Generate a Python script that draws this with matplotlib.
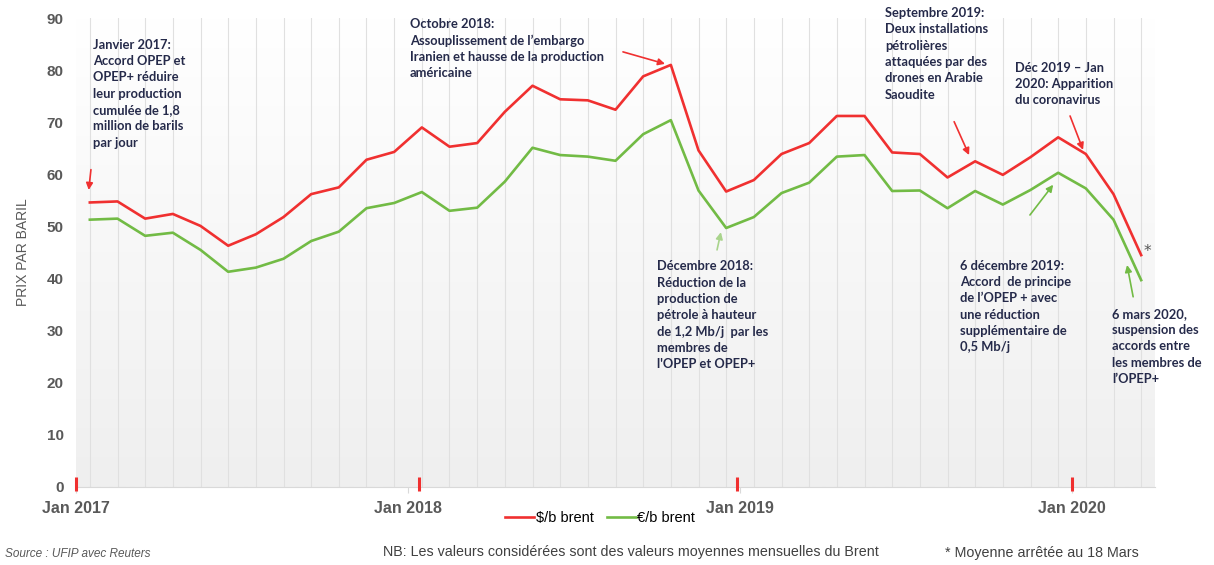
import matplotlib
matplotlib.use("Agg")
import matplotlib.pyplot as plt
from matplotlib.colors import LinearSegmentedColormap
import numpy as np

# Monthly averages, Jan 2017 -> Mar 2020 (last = average up to 18 March)
months = list(range(39))
brent_usd = [54.6, 54.8, 51.5, 52.4, 50.1, 46.3, 48.5, 51.8, 56.2, 57.5,
             62.8, 64.3, 69.0, 65.3, 66.0, 72.0, 77.0, 74.4, 74.2, 72.4,
             78.8, 81.0, 64.6, 56.7, 58.9, 63.9, 66.0, 71.2, 71.2, 64.2,
             63.9, 59.4, 62.5, 59.9, 63.3, 67.1, 63.9, 56.2, 44.5]
brent_eur = [51.3, 51.5, 48.2, 48.8, 45.5, 41.3, 42.1, 43.8, 47.2, 49.0,
             53.5, 54.5, 56.6, 53.0, 53.6, 58.6, 65.1, 63.7, 63.4, 62.6,
             67.7, 70.4, 56.9, 49.7, 51.8, 56.4, 58.4, 63.4, 63.7, 56.8,
             56.9, 53.5, 56.8, 54.2, 57.0, 60.3, 57.3, 51.3, 39.7]
year_ticks = [-0.5, 11.5, 23.5, 35.5]
year_labels = ['Jan 2017', 'Jan 2018', 'Jan 2019', 'Jan 2020']
red_marks = [-0.5, 11.9, 23.4, 35.5]

RED = '#f03030'
GREEN = '#72bb45'
LIGHT_GREEN = '#a9d48c'
NAVY = '#252a4a'
GRAY = '#595959'

# annotations: text, text pos (x, y top), arrow tail, arrow head, arrow colour
notes = [
    ("Janvier 2017:\nAccord OPEP et\nOPEP+ réduire\nleur production\ncumulée de 1,8\nmillion de barils\npar jour",
     (0.11, 86.0), (0.04, 60.9), (-0.04, 57.0), RED),
    ("Octobre 2018:\nAssouplissement de l\u2019embargo\nIranien et hausse de la production\naméricaine",
     (11.57, 90.0), (19.27, 83.5), (20.79, 81.2), RED),
    ("Septembre 2019:\nDeux installations\npétrolières\nattaquées par des\ndrones en Arabie\nSaoudite",
     (28.74, 92.1), (31.24, 70.1), (31.78, 63.7), RED),
    ("Déc 2019 \u2013 Jan\n2020: Apparition\ndu coronavirus",
     (33.44, 81.6), (35.43, 71.2), (35.90, 64.7), RED),
    ("Décembre 2018:\nRéduction de la\nproduction de\npétrole à hauteur\nde 1,2 Mb/j  par les\nmembres de\nl'OPEP et OPEP+",
     (20.50, 43.5), (22.67, 45.5), (22.81, 48.9), LIGHT_GREEN),
    ("6 décembre 2019:\nAccord  de principe\nde l\u2019OPEP + avec\nune réduction\nsupplémentaire de\n0,5 Mb/j",
     (31.45, 43.6), (33.98, 52.2), (34.82, 58.0), GREEN),
    ("6 mars 2020,\nsuspension des\naccords entre\nles membres de\nl\u2019OPEP+",
     (36.95, 34.4), (37.71, 36.5), (37.49, 42.6), GREEN),
]

fig = plt.figure(figsize=(12.14, 5.65), dpi=100)
ax = fig.add_axes([76 / 1214, 78 / 565, 1079 / 1214, 469 / 565])

# gradient background of the plot area
grad = np.linspace(1, 0, 256).reshape(-1, 1)
ax.imshow(grad, extent=(-0.5, 38.5, 0, 90), aspect='auto',
          cmap=LinearSegmentedColormap.from_list('bg', ['#efefef', '#ffffff']),
          origin='upper', zorder=0)

for m in months:
    ax.axvline(m, color='#e0e0e0', lw=0.8, zorder=1)

ax.plot(months, brent_usd, color=RED, lw=1.9, zorder=3, label='$/b brent')
ax.plot(months, brent_eur, color=GREEN, lw=1.9, zorder=3, label='\u20ac/b brent')

for rm in red_marks:
    ax.plot([rm, rm], [-0.8, 1.9], color=RED, lw=2.2, zorder=4, clip_on=False, solid_capstyle='butt')

ax.set_xlim(-0.5, 38.5)
ax.set_ylim(0, 90)
ax.set_yticks(range(0, 91, 10))
ax.set_xticks(year_ticks)
ax.set_xticklabels(year_labels)
for sp in ['top', 'right', 'left']:
    ax.spines[sp].set_visible(False)
ax.spines['bottom'].set_color('#d9d9d9')
ax.tick_params(axis='y', length=0, pad=9, labelsize=11, labelcolor=GRAY)
ax.tick_params(axis='x', length=4, color='#d9d9d9', pad=6, labelsize=11.5, labelcolor=GRAY)
for lab in ax.get_xticklabels() + ax.get_yticklabels():
    lab.set_fontweight('bold')
    lab.set_family('Liberation Sans')
ax.set_ylabel('PRIX PAR BARIL', fontsize=10, color=GRAY, family='Liberation Sans', labelpad=12)

for text, (tx, ty), tail, head, col in notes:
    ax.text(tx, ty, text, ha='left', va='top', fontsize=9.3, fontweight='bold', color=NAVY,
            family='Lato', linespacing=1.43, clip_on=False, zorder=5)
    ax.annotate('', xy=head, xytext=tail,
                arrowprops=dict(arrowstyle='-|>', color=col, lw=1.2, mutation_scale=10,
                                shrinkA=0, shrinkB=0), annotation_clip=False, zorder=5)

ax.text(38.07, 45.1, '*', fontsize=11, color='#555555', ha='left', va='center')

ax.legend(loc='center', bbox_to_anchor=(600 / 1214, 47 / 565), bbox_transform=fig.transFigure,
          ncol=2, frameon=False, handlelength=2.0, handletextpad=0.1, columnspacing=0.9,
          prop={'family': 'Liberation Sans', 'size': 10.5})

fig.text(5 / 1214, 1 - 554 / 565, 'Source : UFIP avec Reuters', fontsize=8.5, style='italic',
         color=GRAY, family='Liberation Sans', va='center')
fig.text(383 / 1214, 1 - 552 / 565, 'NB: Les valeurs considérées sont des valeurs moyennes mensuelles du Brent',
         fontsize=10.3, color='#404040', family='Liberation Sans', va='center')
fig.text(945 / 1214, 1 - 553 / 565, '* Moyenne arrêtée au 18 Mars', fontsize=10.3, color='#404040',
         family='Liberation Sans', va='center')

fig.savefig('out.png', dpi=100)
